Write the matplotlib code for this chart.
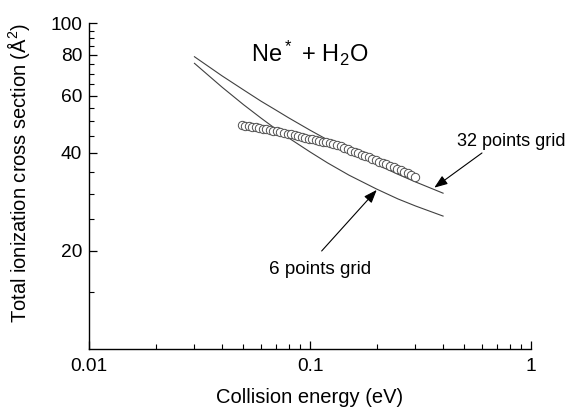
import matplotlib
matplotlib.use("Agg")
import matplotlib.pyplot as plt
from matplotlib.ticker import FixedLocator, FuncFormatter, LogLocator, NullFormatter

plt.rcParams['font.family'] = ['Liberation Sans', 'DejaVu Sans']
plt.rcParams['mathtext.default'] = 'regular'

# calculated curves (energy in eV, cross section in A^2)
calc_energy = [0.03, 0.04, 0.05, 0.06, 0.07, 0.08, 0.1, 0.12, 0.15, 0.2, 0.25, 0.3, 0.4]
grid32 = [79.0, 69.0, 62.5, 57.7, 54.2, 51.3, 47.0, 43.9, 40.6, 36.9, 34.4, 32.6, 30.1]
grid6 = [75.4, 63.7, 56.3, 51.2, 47.4, 44.5, 40.3, 37.3, 34.2, 31.0, 28.9, 27.5, 25.6]

# experimental points
exp_energy = [0.0490, 0.0508, 0.0527, 0.0547, 0.0568, 0.0589, 0.0611, 0.0634, 0.0658, 0.0682,
              0.0708, 0.0735, 0.0762, 0.0791, 0.0820, 0.0851, 0.0883, 0.0916, 0.0951, 0.0986,
              0.1023, 0.1062, 0.1102, 0.1143, 0.1186, 0.1230, 0.1276, 0.1324, 0.1374, 0.1426,
              0.1479, 0.1535, 0.1592, 0.1652, 0.1714, 0.1778, 0.1845, 0.1914, 0.1986, 0.2061,
              0.2138, 0.2218, 0.2301, 0.2388, 0.2477, 0.2570, 0.2667, 0.2767, 0.2871, 0.2979]
exp_sigma = [48.7, 48.5, 48.3, 48.1, 47.9, 47.7, 47.5, 47.3, 47.1, 46.8,
             46.6, 46.4, 46.1, 45.9, 45.7, 45.4, 45.0, 44.7, 44.4, 44.2,
             44.0, 43.8, 43.5, 43.3, 43.1, 42.8, 42.6, 42.3, 41.9, 41.5,
             41.1, 40.7, 40.3, 39.9, 39.5, 39.1, 38.8, 38.4, 38.0, 37.6,
             37.3, 36.9, 36.5, 36.1, 35.7, 35.4, 35.0, 34.6, 34.2, 33.8]

fig = plt.figure(figsize=(5.75, 4.07), dpi=100)
ax = fig.add_axes([0.1548, 0.1425, 0.7687, 0.8000])

ax.plot(calc_energy, grid32, color='#404040', lw=0.8)
ax.plot(calc_energy, grid6, color='#404040', lw=0.8)
ax.plot(exp_energy, exp_sigma, 'o', ms=6, mfc='white', mec='#505050', mew=0.7, ls='none')

ax.set_xscale('log')
ax.set_yscale('log')
ax.set_xlim(0.01, 1)
ax.set_ylim(10, 100)

ax.xaxis.set_major_locator(FixedLocator([0.01, 0.1, 1]))
ax.xaxis.set_major_formatter(FuncFormatter(lambda v, p: '%g' % v))
ax.xaxis.set_minor_locator(LogLocator(base=10, subs=range(2, 10)))
ax.xaxis.set_minor_formatter(NullFormatter())
ax.yaxis.set_major_locator(FixedLocator([20, 40, 60, 80, 100]))
ax.yaxis.set_major_formatter(FuncFormatter(lambda v, p: '%d' % v))
ax.yaxis.set_minor_locator(FixedLocator([15, 25, 30, 35, 45, 50, 55, 65, 70, 75, 85, 90, 95]))
ax.yaxis.set_minor_formatter(NullFormatter())

for s in ['top', 'right']:
    ax.spines[s].set_visible(False)
for s in ['left', 'bottom']:
    ax.spines[s].set_linewidth(1.0)
ax.tick_params(which='major', direction='in', length=5.8, width=0.9, labelsize=13.8)
ax.tick_params(which='minor', direction='in', length=3.6, width=0.8)
ax.tick_params(axis='x', which='major', pad=6.5)
ax.tick_params(axis='y', which='major', pad=5)

ax.set_xlabel('Collision energy (eV)', fontsize=14.5)
ax.set_ylabel('Total ionization cross section (Å$^2$)', fontsize=14.5)
ax.xaxis.set_label_coords(0.5, -0.12)
ax.yaxis.set_label_coords(-0.129, 0.54)

ax.text(0.0539, 76.1, 'Ne$^*$ + H$_2$O', fontsize=17, ha='left', va='baseline')

arrow = dict(arrowstyle='-|>,head_length=0.8,head_width=0.3', color='black', lw=0.8,
             shrinkA=0, shrinkB=0)
ax.annotate('', xy=(0.365, 31.3), xytext=(0.60, 40.0), arrowprops=arrow)
ax.text(0.812, 43.5, '32 points grid', fontsize=13, ha='center', va='center')
ax.annotate('', xy=(0.2004, 30.8), xytext=(0.1129, 20.0), arrowprops=arrow)
ax.text(0.111, 17.5, '6 points grid', fontsize=13.6, ha='center', va='center')

fig.savefig('out.png', dpi=100)
